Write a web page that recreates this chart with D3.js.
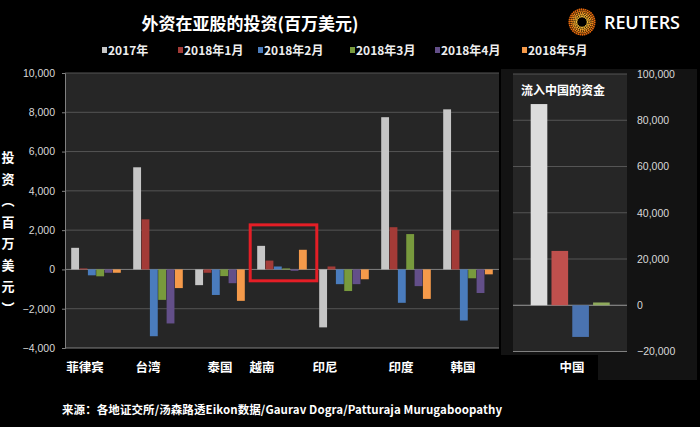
<!DOCTYPE html>
<html>
<head>
<meta charset="utf-8">
<script src="https://cdn.jsdelivr.net/npm/d3@7"></script>
<style>
  body { margin: 0; background: #000; }
  svg { display: block; }
  .cjk { font-family: "Noto Sans CJK SC", sans-serif; font-weight: bold; }
  .num { font-family: "Liberation Sans", Arial, sans-serif; font-size: 10.5px; fill: #d9d9d9; }
</style>
</head>
<body>
<svg id="chart" width="700" height="427"></svg>
<script>
// data (millions of USD)
const countries = ['菲律宾', '台湾', '泰国', '越南', '印尼', '印度', '韩国'];
const seriesNames = ['2017年', '2018年1月', '2018年2月', '2018年3月', '2018年4月', '2018年5月'];
const v2017 = [1100, 5200, -800, 1200, -2950, 7750, 8150];
const vJan  = [50, 2550, -170, 450, 150, 2150, 2000];
const vFeb  = [-300, -3400, -1300, 150, -750, -1700, -2600];
const vMar  = [-350, -1550, -340, 50, -1100, 1800, -450];
const vApr  = [-170, -2750, -700, -70, -750, -850, -1200];
const vMay  = [-170, -950, -1600, 1000, -500, -1500, -250];
const chinaSeries = ['2017年', '2018年1月', '2018年2月', '2018年3月'];
const chinaValues = [87000, 23500, -13700, 1200];
const leftTicks = [-4000, -2000, 0, 2000, 4000, 6000, 8000, 10000];
const rightTicks = [-20000, 0, 20000, 40000, 60000, 80000, 100000];

const seriesValues = [v2017, vJan, vFeb, vMar, vApr, vMay];
const colors = ['#c6c6c6', '#a33b37', '#4a7cbd', '#789a3d', '#634f89', '#f59a4a'];
const chinaColors = ['#dcdcdc', '#c0504d', '#4a73b0', '#8faa5c'];

// layout tweaks to follow the hand-placed labels of the original
const labelShift = [-11, -10, 0, -20, -19, -5, -5];
const legendX = [102, 178, 258, 350, 435, 522];
const yLabel = ['投', '资', '︵', '百', '万', '美', '元', '︶'];

const svg = d3.select('#chart');
const fmt = d3.format(',');

svg.append('rect').attr('width', 700).attr('height', 427).attr('fill', '#000');

// title
svg.append('text')
  .attr('class', 'cjk')
  .attr('x', 250).attr('y', 30)
  .attr('text-anchor', 'middle')
  .style('font-size', '17px')
  .attr('fill', '#fff')
  .text('外资在亚股的投资(百万美元)');

// reuters logo
let logo = svg.append('g').attr('transform', 'translate(582,22)');
[5.5, 7.3, 9.1, 10.9, 12.7].forEach((r, i) => {
  let n = Math.round(2 * Math.PI * r / 2.1);
  for (let k = 0; k < n; k++) {
    let a = (k / n) * 2 * Math.PI + i * 0.3;
    logo.append('circle')
      .attr('cx', r * Math.cos(a))
      .attr('cy', r * Math.sin(a))
      .attr('r', 0.95)
      .attr('fill', d3.interpolateRgb('#ffc43a', '#e86a0c')(i / 4));
  }
});
svg.append('text')
  .attr('x', 604).attr('y', 29)
  .attr('textLength', 76)
  .style('font-family', '"Open Sans", sans-serif')
  .style('font-weight', 600)
  .style('font-size', '18px')
  .attr('fill', '#fff')
  .text('REUTERS');

// legend
let legend = svg.append('g');
seriesNames.forEach((name, i) => {
  legend.append('rect')
    .attr('x', legendX[i]).attr('y', 47)
    .attr('width', 5).attr('height', 6)
    .attr('fill', colors[i]);
  legend.append('text')
    .attr('class', 'cjk')
    .attr('x', legendX[i] + 6).attr('y', 54.5)
    .style('font-size', '12px')
    .attr('fill', '#eee')
    .text(name);
});

//
// MAIN PANEL
//
let plot = {left: 65, right: 499, top: 73, bottom: 348};

svg.append('rect')
  .attr('x', plot.left).attr('y', plot.top)
  .attr('width', plot.right - plot.left).attr('height', plot.bottom - plot.top)
  .attr('fill', '#262626');

let x0 = d3.scaleBand()
  .domain(countries)
  .range([plot.left, plot.right])
  .paddingInner(0.2)
  .paddingOuter(0.1);

let x1 = d3.scaleBand()
  .domain(seriesNames)
  .range([0, x0.bandwidth()])
  .paddingInner(0.06);

let y = d3.scaleLinear()
  .domain([-4000, 10000])
  .range([plot.bottom, plot.top]);

// grid
svg.append('g')
  .selectAll('line')
  .data(leftTicks)
  .enter()
  .append('line')
    .attr('x1', plot.left).attr('x2', plot.right)
    .attr('y1', d => y(d)).attr('y2', d => y(d))
    .attr('stroke', d => d === 0 || d === -4000 ? '#808080' : '#555')
    .attr('stroke-width', 1);

// left axis
let yAxis = svg.append('g')
  .attr('transform', 'translate(' + plot.left + ',0)')
  .call(d3.axisLeft(y).tickValues(leftTicks).tickFormat(fmt).tickSize(3).tickPadding(7));
yAxis.select('.domain').attr('stroke', '#808080');
yAxis.selectAll('.tick line').attr('stroke', '#808080');
yAxis.selectAll('.tick text').attr('class', 'num').attr('fill', null);

// bars
let groups = svg.append('g')
  .selectAll('g')
  .data(countries)
  .enter()
  .append('g')
    .attr('transform', d => 'translate(' + x0(d) + ',0)');

groups.selectAll('rect')
  .data((c, ci) => seriesNames.map((s, si) => ({series: s, si: si, value: seriesValues[si][ci]})))
  .enter()
  .append('rect')
    .attr('x', d => x1(d.series))
    .attr('width', x1.bandwidth())
    .attr('y', d => y(Math.max(0, d.value)))
    .attr('height', d => Math.abs(y(d.value) - y(0)))
    .attr('fill', d => colors[d.si]);

// category labels
svg.append('g')
  .selectAll('text')
  .data(countries)
  .enter()
  .append('text')
    .attr('class', 'cjk')
    .attr('x', (d, i) => x0(d) + x0.bandwidth() / 2 + labelShift[i])
    .attr('y', 372)
    .attr('text-anchor', 'middle')
    .style('font-size', '12.5px')
    .attr('fill', '#fff')
    .text(d => d);

// highlight box round Vietnam
let vn = '越南';
let vnExtent = d3.extent(seriesValues.map(s => s[countries.indexOf(vn)]));
svg.append('rect')
  .attr('x', x0(vn) - 7)
  .attr('y', y(vnExtent[1]) - 21)
  .attr('width', x0.bandwidth() + 17)
  .attr('height', y(vnExtent[0]) - y(vnExtent[1]) + 31)
  .attr('fill', 'none')
  .attr('stroke', '#e41e26')
  .attr('stroke-width', 3);

// y axis title, one glyph per line
svg.append('g')
  .selectAll('text')
  .data(yLabel)
  .enter()
  .append('text')
    .attr('class', 'cjk')
    .attr('x', 8)
    .attr('y', (d, i) => 162 + i * 21.5)
    .attr('text-anchor', 'middle')
    .style('font-size', '13px')
    .attr('fill', '#fff')
    .text(d => d);

//
// CHINA PANEL
//
svg.append('path')
  .attr('d', 'M501,69H697V380H598V355H501Z')
  .attr('fill', '#131313');

let cplot = {left: 513, right: 627, top: 74, bottom: 351.5};

svg.append('rect')
  .attr('x', cplot.left).attr('y', cplot.top)
  .attr('width', cplot.right - cplot.left).attr('height', cplot.bottom - cplot.top)
  .attr('fill', '#262626');

let cx = d3.scaleBand()
  .domain(chinaSeries)
  .range([528.6, 611.8])
  .paddingInner(0.2)
  .paddingOuter(0.1);

let cy = d3.scaleLinear()
  .domain([-20000, 100000])
  .range([cplot.bottom, cplot.top]);

svg.append('g')
  .selectAll('line')
  .data(rightTicks)
  .enter()
  .append('line')
    .attr('x1', cplot.left).attr('x2', cplot.right)
    .attr('y1', d => cy(d)).attr('y2', d => cy(d))
    .attr('stroke', d => d === 0 ? '#9a9a9a' : d === -20000 ? '#808080' : '#555');

let rAxis = svg.append('g')
  .attr('transform', 'translate(' + (cplot.right + 3) + ',0)')
  .call(d3.axisRight(cy).tickValues(rightTicks).tickFormat(fmt).tickSize(0).tickPadding(7));
rAxis.select('.domain').remove();
rAxis.selectAll('.tick text').attr('class', 'num').attr('fill', null);

svg.append('g')
  .selectAll('rect')
  .data(chinaValues)
  .enter()
  .append('rect')
    .attr('x', (d, i) => cx(chinaSeries[i]))
    .attr('width', cx.bandwidth())
    .attr('y', d => cy(Math.max(0, d)))
    .attr('height', d => Math.abs(cy(d) - cy(0)))
    .attr('fill', (d, i) => chinaColors[i]);

svg.append('text')
  .attr('class', 'cjk')
  .attr('x', 521).attr('y', 95)
  .style('font-size', '12px')
  .attr('fill', '#fff')
  .text('流入中国的资金');

svg.append('text')
  .attr('class', 'cjk')
  .attr('x', 572).attr('y', 372)
  .attr('text-anchor', 'middle')
  .style('font-size', '12.5px')
  .attr('fill', '#fff')
  .text('中国');

// source
svg.append('text')
  .attr('class', 'cjk')
  .attr('x', 62).attr('y', 414)
  .attr('textLength', 440)
  .style('font-size', '11.5px')
  .attr('fill', '#fff')
  .text('来源：各地证交所/汤森路透Eikon数据/Gaurav Dogra/Patturaja Murugaboopathy');
</script>
</body>
</html>
